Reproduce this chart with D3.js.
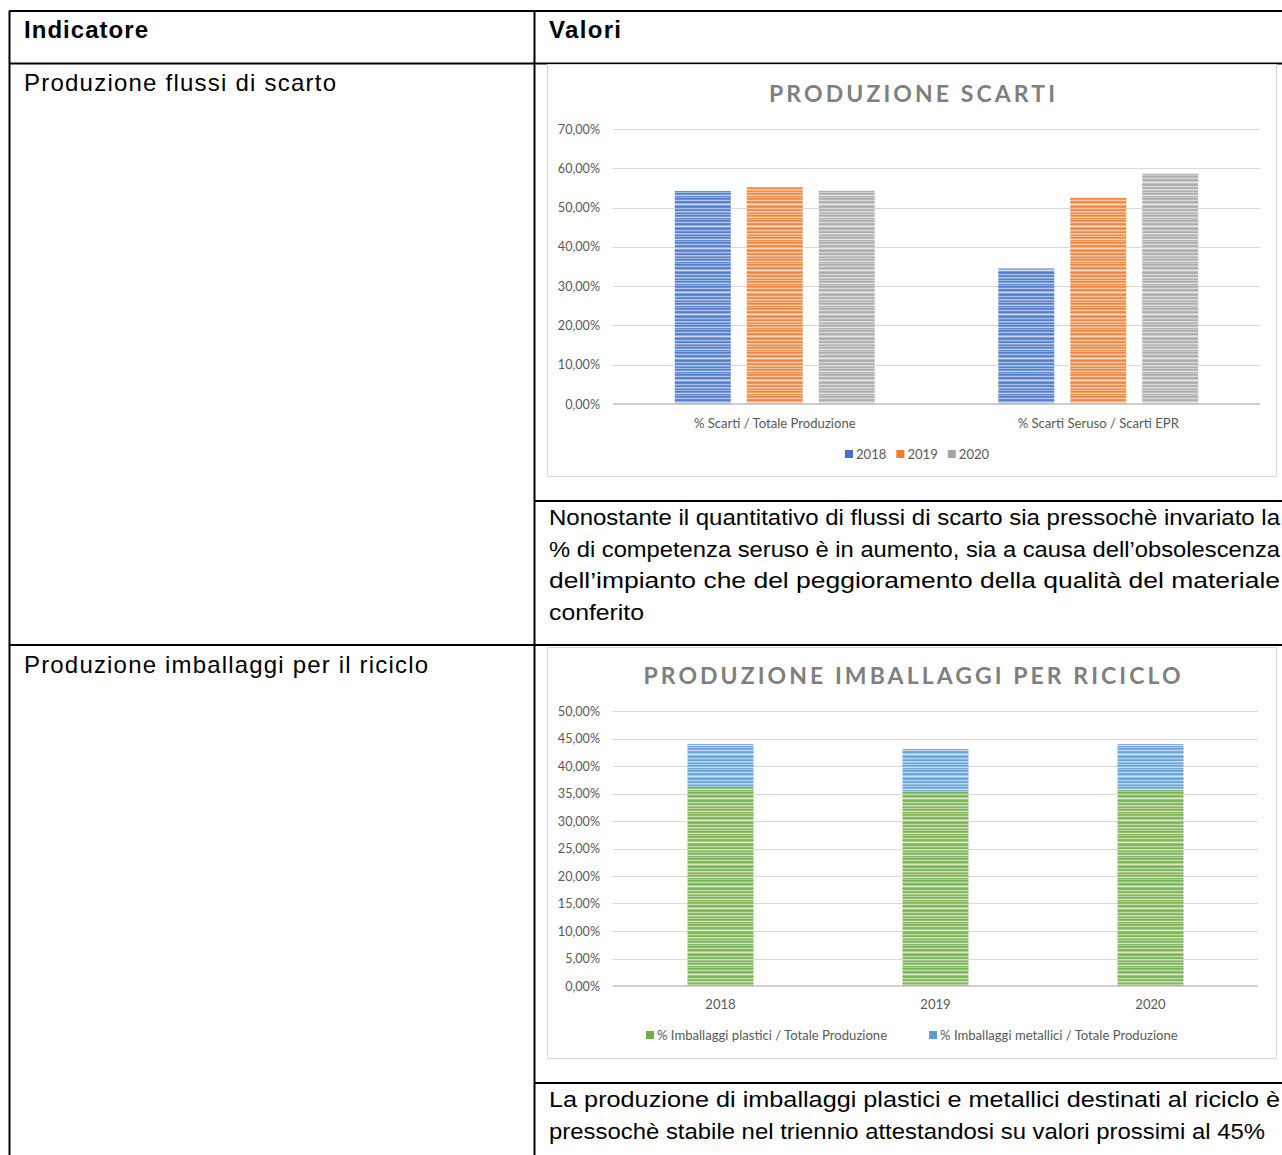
<!DOCTYPE html>
<html>
<head>
<meta charset="utf-8">
<script src="https://cdn.jsdelivr.net/npm/d3@7"></script>
<style>
  html, body { margin: 0; padding: 0; background: #fff; }
  svg { display: block; }
</style>
</head>
<body>
<script>
// ---- Data ----------------------------------------------------------------
const scartiCategories = ["% Scarti / Totale Produzione", "% Scarti Seruso / Scarti EPR"];
const scartiYears = ["2018", "2019", "2020"];
const scarti2018 = [0.542, 0.345];
const scarti2019 = [0.552, 0.525];
const scarti2020 = [0.543, 0.587];
const scartiTicks = [0, 0.1, 0.2, 0.3, 0.4, 0.5, 0.6, 0.7];

const imballaggiYears = ["2018", "2019", "2020"];
const imballaggiSeries = ["% Imballaggi plastici / Totale Produzione", "% Imballaggi metallici / Totale Produzione"];
const plastici = [0.360, 0.353, 0.358];
const metallici = [0.080, 0.078, 0.082];
const imballaggiTicks = [0, 0.05, 0.1, 0.15, 0.2, 0.25, 0.3, 0.35, 0.4, 0.45, 0.5];

const tableHeaders = ["Indicatore", "Valori"];
const indicators = ["Produzione flussi di scarto", "Produzione imballaggi per il riciclo"];
const noteScarti = [
  "Nonostante il quantitativo di flussi di scarto sia pressochè invariato la",
  "% di competenza seruso è in aumento, sia a causa dell’obsolescenza",
  "dell’impianto che del peggioramento della qualità del materiale",
  "conferito"
];
const noteImballaggi = [
  "La produzione di imballaggi plastici e metallici destinati al riciclo è",
  "pressochè stabile nel triennio attestandosi su valori prossimi al 45%"
];

// ---- Setup ---------------------------------------------------------------
const W = 1282, H = 1155;
const svg = d3.select("body").append("svg").attr("width", W).attr("height", H);
const pct = d3.formatLocale({ decimal: ",", thousands: ".", grouping: [3], currency: ["", "€"] }).format(".2%");

const axisFont = "Lato, 'Open Sans', sans-serif";
const axisColor = "#595959";
const gridColor = "#d9d9d9";

// Striped fills for the bars (horizontal banding)
const stripe = [1, .85, .45, .9, 1, .6, .3, .75, 1, .9, .5, .85, 1, .4, .7, .95, .55, 1, .8, .35, .9, .65];
const palette = { b: "#4472c4", o: "#ed7d31", g: "#a5a5a5", gr: "#70ad47", lb: "#5b9bd5" };
const defs = svg.append("defs");
Object.entries(palette).forEach(([k, c]) => {
  const p = defs.append("pattern").attr("id", "st-" + k)
    .attr("patternUnits", "userSpaceOnUse").attr("width", 8).attr("height", stripe.length);
  p.append("rect").attr("width", 8).attr("height", stripe.length).attr("fill", "#fff");
  p.selectAll("rect.s").data(stripe).join("rect").attr("class", "s")
    .attr("x", 0).attr("y", (d, i) => i).attr("width", 8).attr("height", 1)
    .attr("fill", c).attr("opacity", d => d * 0.92);
});

// ---- Table frame ---------------------------------------------------------
const lines = [
  [9, 11, W, 11], [9.5, 11, 9.5, H], [534.5, 11, 534.5, H],
  [9, 63.5, W, 63.5], [534, 501, W, 501], [9, 645, W, 645], [534, 1083, W, 1083]
];
svg.append("g").selectAll("line").data(lines).join("line")
  .attr("x1", d => d[0]).attr("y1", d => d[1]).attr("x2", d => d[2]).attr("y2", d => d[3])
  .attr("stroke", "#000").attr("stroke-width", 2);

const tfont = "'Liberation Sans', Arial, sans-serif";
function fitText(x, y, str, width, opts) {
  const t = svg.append("text").attr("x", x).attr("y", y).text(str)
    .attr("font-family", opts.family || tfont).attr("font-size", opts.size)
    .attr("font-weight", opts.weight || "normal").attr("fill", "#000");
  if (width) t.attr("textLength", width).attr("lengthAdjust", opts.adjust || "spacing");
  return t;
}
fitText(24, 37.5, tableHeaders[0], 124, { size: 24, weight: "bold" });
fitText(549, 37.5, tableHeaders[1], 72, { size: 24, weight: "bold" });
fitText(24, 90.5, indicators[0], 312, { size: 24 });
fitText(24, 672.5, indicators[1], 404, { size: 24 });

const bodyFamily = "'Liberation Sans Narrow', 'Liberation Sans', Arial, sans-serif";
const noteWidths1 = [731, 731, 731, null];
noteScarti.forEach((s, i) => fitText(549, 525 + i * 31.5, s, noteWidths1[i], { size: 22, family: bodyFamily, adjust: "spacingAndGlyphs" }));
const noteWidths2 = [731, 716];
noteImballaggi.forEach((s, i) => fitText(549, 1107 + i * 32, s, noteWidths2[i], { size: 22, family: bodyFamily, adjust: "spacingAndGlyphs" }));
// last short line keeps its natural letter shapes but narrowed like the rest
svg.selectAll("text").filter(function () { return this.textContent === "conferito"; })
  .attr("textLength", 95).attr("lengthAdjust", "spacingAndGlyphs");

// ---- Shared chart helpers ----------------------------------------------
function chartFrame(y0, h, title, titleY, titleW) {
  svg.append("rect").attr("x", 547.5).attr("y", y0 + 0.5).attr("width", 729).attr("height", h)
    .attr("fill", "#fff").attr("stroke", gridColor).attr("stroke-width", 1);
  svg.append("text").attr("x", 912).attr("y", titleY).attr("text-anchor", "middle")
    .attr("font-family", axisFont).attr("font-weight", "bold").attr("font-size", 23)
    .attr("fill", "#7f7f7f").attr("textLength", titleW).attr("lengthAdjust", "spacing")
    .text(title);
}
function yAxis(g, y, ticks, x0, x1) {
  g.append("g").selectAll("line").data(ticks.slice(1)).join("line")
    .attr("x1", x0).attr("x2", x1).attr("y1", d => Math.round(y(d)) + 0.5).attr("y2", d => Math.round(y(d)) + 0.5)
    .attr("stroke", gridColor).attr("stroke-width", 1);
  const ax = g.append("g").attr("transform", `translate(${x0},0)`)
    .call(d3.axisLeft(y).tickValues(ticks).tickFormat(pct).tickSize(0).tickPadding(13));
  ax.select(".domain").remove();
  ax.selectAll("text").attr("font-family", axisFont).attr("font-size", 12.6).attr("fill", axisColor);
}
function xAxis(g, x, yPos, pad) {
  const ax = g.append("g").attr("transform", `translate(0,${yPos})`)
    .call(d3.axisBottom(x).tickSize(0).tickPadding(pad));
  ax.select(".domain").remove();
  ax.selectAll("text").attr("font-family", axisFont).attr("font-size", 13.1).attr("fill", axisColor);
  g.append("line").attr("x1", x.range()[0]).attr("x2", x.range()[1]).attr("y1", yPos).attr("y2", yPos)
    .attr("stroke", "#bfbfbf").attr("stroke-width", 1.5);
}
function legend(g, items, startX, yc, gap) {
  let x = startX;
  items.forEach(it => {
    g.append("rect").attr("x", x).attr("y", yc - 4).attr("width", 8).attr("height", 8).attr("fill", it.color);
    const t = g.append("text").attr("x", x + 11).attr("y", yc + 4.5).text(it.label)
      .attr("font-family", axisFont).attr("font-size", 13.1).attr("fill", axisColor);
    x += 11 + t.node().getComputedTextLength() + gap;
  });
}

// ---- Chart 1: PRODUZIONE SCARTI (clustered columns) -----------------------
chartFrame(64, 412, "PRODUZIONE SCARTI", 102, 286);
const g1 = svg.append("g");
const y1 = d3.scaleLinear().domain([0, 0.7]).range([404, 129]);
const x1 = d3.scaleBand().domain(scartiCategories).range([613, 1260]).paddingInner(0.382).paddingOuter(0.191);
const x1s = d3.scaleBand().domain(scartiYears).range([0, x1.bandwidth()]).paddingInner(0.222);
yAxis(g1, y1, scartiTicks, 613, 1260);
const scartiByYear = [scarti2018, scarti2019, scarti2020];
const scartiFill = ["url(#st-b)", "url(#st-o)", "url(#st-g)"];
const scartiRects = [];
scartiYears.forEach((yr, j) => scartiCategories.forEach((c, i) =>
  scartiRects.push({ c, yr, v: scartiByYear[j][i], fill: scartiFill[j] })));
g1.append("g").selectAll("rect").data(scartiRects).join("rect")
  .attr("x", d => x1(d.c) + x1s(d.yr)).attr("width", x1s.bandwidth())
  .attr("y", d => y1(d.v)).attr("height", d => y1(0) - y1(d.v))
  .attr("fill", d => d.fill);
xAxis(g1, x1, 404, 14.5);
legend(g1, scartiYears.map((yr, j) => ({ label: yr, color: [palette.b, palette.o, palette.g][j] })), 845, 454, 10);

// ---- Chart 2: PRODUZIONE IMBALLAGGI PER RICICLO (stacked columns) ---------
chartFrame(647, 411, "PRODUZIONE IMBALLAGGI PER RICICLO", 684, 537);
const g2 = svg.append("g");
const y2 = d3.scaleLinear().domain([0, 0.5]).range([986, 711]);
const x2 = d3.scaleBand().domain(imballaggiYears).range([613, 1258]).paddingInner(0.693).paddingOuter(0.3465);
yAxis(g2, y2, imballaggiTicks, 613, 1258);
const rows = imballaggiYears.map((yr, i) => ({ yr, p: plastici[i], m: metallici[i] }));
const stack = d3.stack().keys(["p", "m"])(rows);
const stackFill = ["url(#st-gr)", "url(#st-lb)"];
g2.append("g").selectAll("g").data(stack).join("g").attr("fill", (d, i) => stackFill[i])
  .selectAll("rect").data(d => d).join("rect")
  .attr("x", d => x2(d.data.yr)).attr("width", x2.bandwidth())
  .attr("y", d => y2(d[1])).attr("height", d => y2(d[0]) - y2(d[1]));
xAxis(g2, x2, 986, 14);
legend(g2, imballaggiSeries.map((s, i) => ({ label: s, color: [palette.gr, palette.lb][i] })), 646, 1035, 42);
</script>
</body>
</html>
